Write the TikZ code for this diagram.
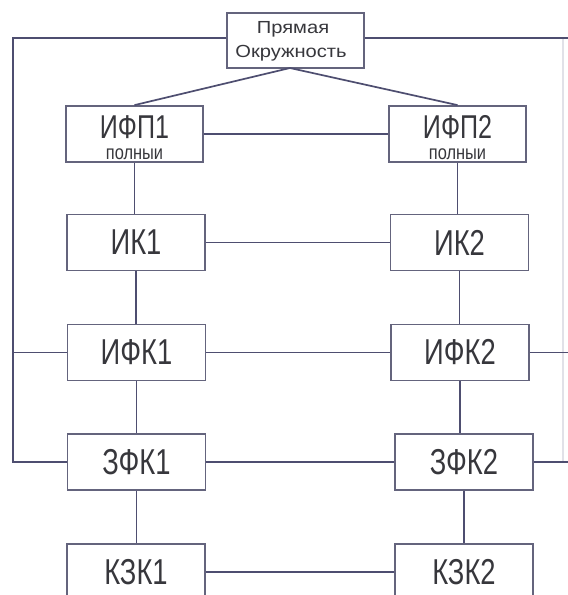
\documentclass[tikz,border=0pt]{standalone}
\usepackage{fontspec}
\newfontfamily\gost{Liberation Sans}[FakeStretch=0.76]
\newfontfamily\gostsub{Liberation Sans}[FakeStretch=0.82]
\newfontfamily\gosttop{Liberation Sans}[FakeStretch=1.15]
\definecolor{linec}{RGB}{78,78,112}
\definecolor{boxc}{RGB}{100,100,125}
\definecolor{textc}{RGB}{55,55,60}
\definecolor{faintc}{RGB}{225,225,232}
\newcommand{\subline}[1]{{\gostsub\fontsize{20}{21}\selectfont #1}}
\tikzset{
  blk/.style={draw=boxc, line width=1.8pt, fill=white, minimum width=138pt, minimum height=56pt, inner sep=0pt, text=textc, font=\gost\fontsize{36}{36}\selectfont},
  conn/.style={draw=linec, line width=1.7pt},
  ttltxt/.style={inner sep=0pt, text=textc, align=center, font=\gost\fontsize{33}{21}\selectfont},
  toptxt/.style={inner sep=0pt, text=textc, anchor=base, font=\gosttop\fontsize{17.5}{17.5}\selectfont}
}
\begin{document}
\begin{tikzpicture}[x=1pt,y=-1pt]
\useasboundingbox (0,0) rectangle (568,595);
\clip (0,0) rectangle (568,595);
\fill[white] (0,0) rectangle (568,595);
% frame coordinates
\coordinate (tl) at (13,38);
\coordinate (tr) at (568,38);
\coordinate (bl) at (13,462);
\coordinate (rf) at (563,38);
\coordinate (rfb) at (563,462);
% faint right frame
\draw[faintc, line width=1.2pt] (rf) -- (rfb);
% boxes
\node[blk, minimum width=137pt, minimum height=55pt] (top) at (295.5,40.5) {};
\node[toptxt] (t1) at (293,33) {Прямая};
\node[toptxt] (t2) at (291,57) {Окружность};
\node[blk, minimum width=137pt] (ifp1) at (134.5,134) {};
\node[blk, minimum width=137pt] (ifp2) at (457.5,134) {};
\node[ttltxt] (ifp1t) at (134.5,137.5) {ИФП1\\\subline{полныи}};
\node[ttltxt] (ifp2t) at (457.5,137.5) {ИФП2\\\subline{полныи}};
\node[blk] (ik1) at (136,242.5) {ИК1};
\node[blk] (ik2) at (459.5,242.5) {ИК2};
\node[blk] (ifk1) at (136.5,352.5) {ИФК1};
\node[blk] (ifk2) at (460,352.5) {ИФК2};
\node[blk] (zfk1) at (136.5,462) {ЗФК1};
\node[blk] (zfk2) at (464,462) {ЗФК2};
\node[blk] (kzk1) at (136,572) {КЗК1};
\node[blk] (kzk2) at (464,572) {КЗК2};
% connectors from top
\coordinate (apex) at (290,68);
\draw[conn] (apex) -- (ifp1.north);
\draw[conn] (apex) -- (ifp2.north);
% horizontal links
\draw[conn] (ifp1) -- (ifp2);
\draw[conn] (ik1) -- (ik2);
\draw[conn] (ifk1) -- (ifk2);
\draw[conn] (zfk1) -- (zfk2);
\draw[conn] (kzk1) -- (kzk2);
% vertical links
\draw[conn] (ifp1.south) -- (ik1.north -| ifp1.south);
\draw[conn] (ik1.south) -- (ifk1.north -| ik1.south);
\draw[conn] (ifk1.south) -- (zfk1.north -| ifk1.south);
\draw[conn] (zfk1.south) -- (kzk1.north -| zfk1.south);
\draw[conn] (ifp2.south) -- (ik2.north -| ifp2.south);
\draw[conn] (ik2.south) -- (ifk2.north -| ik2.south);
\draw[conn] (ifk2.south) -- (zfk2.north -| ifk2.south);
\draw[conn] (zfk2.south) -- (kzk2.north -| zfk2.south);
% outer frame
\draw[conn] (top.west |- tl) -- (tl) -- (bl) -- (zfk1.west);
\draw[conn] (ifk1.west -| tl) -- (ifk1.west);
\draw[conn] (top.east |- tr) -- (tr);
\draw[conn] (ifk2.east) -- (ifk2.east -| tr);
\draw[conn] (zfk2.east) -- (zfk2.east -| tr);
\end{tikzpicture}
\end{document}
